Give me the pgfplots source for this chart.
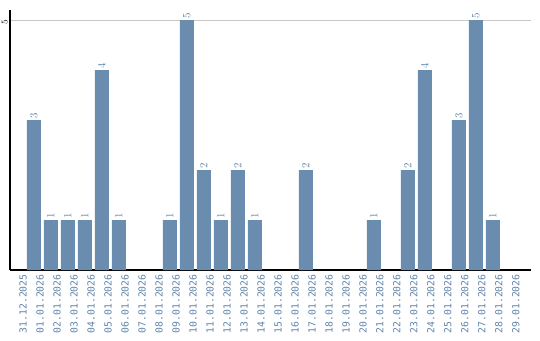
\documentclass[border=0pt]{standalone}
\usepackage{fontspec}
\setmainfont{DejaVu Sans}
\newfontfamily\monofont{DejaVu Sans Mono}
\usepackage{pgfplots}
\pgfplotsset{compat=1.18}
\definecolor{barc}{HTML}{6A8CAF}
\definecolor{labc}{HTML}{5F84AC}
\definecolor{gridc}{HTML}{C8C8C8}
\begin{document}
\begin{tikzpicture}[x=1bp,y=1bp]
\path[use as bounding box] (0,0) rectangle (540,340);
\begin{axis}[
  at={(10bp,70bp)}, anchor=south west,
  scale only axis, width=521bp, height=260bp,
  xmin=-0.41, xmax=30.24, ymin=0, ymax=5.2,
  axis x line=bottom, axis y line=left,
  axis line style={black, line width=1.2pt, -},
  ytick={5}, ymajorgrids, grid style={gridc, line width=0.8pt},
  yticklabel style={rotate=90, font=\monofont\bfseries\fontsize{9}{10}\selectfont, anchor=south, inner sep=0pt, xshift=-2bp},
  ytick style={draw=none},
  xtick={0,...,29}, xtick style={draw=none},
  xticklabels={31.12.2025,01.01.2026,02.01.2026,03.01.2026,04.01.2026,05.01.2026,06.01.2026,07.01.2026,08.01.2026,09.01.2026,10.01.2026,11.01.2026,12.01.2026,13.01.2026,14.01.2026,15.01.2026,16.01.2026,17.01.2026,18.01.2026,19.01.2026,20.01.2026,21.01.2026,22.01.2026,23.01.2026,24.01.2026,25.01.2026,26.01.2026,27.01.2026,28.01.2026,29.01.2026},
  xticklabel style={rotate=90, anchor=east, text=labc, font=\monofont\fontsize{9.8}{10}\selectfont, inner sep=0pt, yshift=-6bp},
  ybar, bar width=14bp, bar shift=0pt,
  nodes near coords={\pgfmathprintnumber{\pgfplotspointmeta}},
  every node near coord/.style={rotate=90, anchor=west, text=labc, font=\monofont\fontsize{10.5}{12}\selectfont, inner sep=1.5bp},
  clip=false,
]
\addplot[fill=barc, draw=none] coordinates {
(1,3) (2,1) (3,1) (4,1) (5,4) (6,1) (9,1) (10,5) (11,2) (12,1) (13,2) (14,1) (17,2) (21,1) (23,2) (24,4) (26,3) (27,5) (28,1)};
\end{axis}
\end{tikzpicture}
\end{document}
